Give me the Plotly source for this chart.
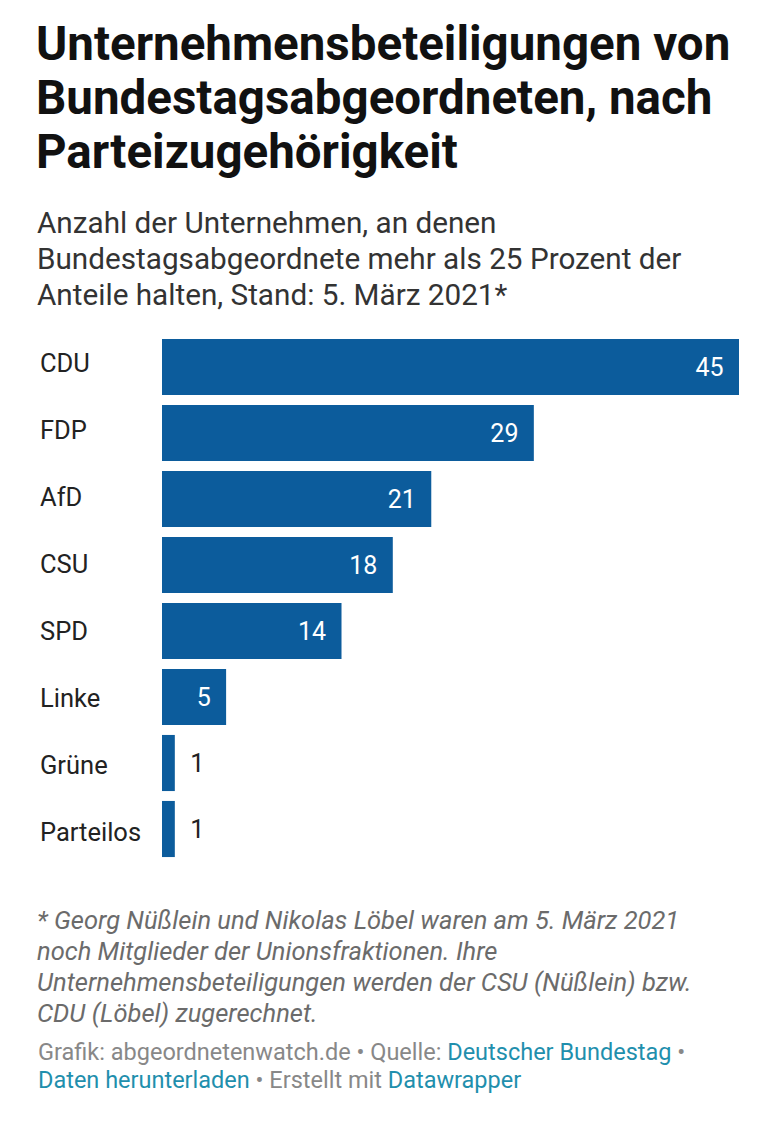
import plotly.graph_objects as go

parties = ["CDU", "FDP", "AfD", "CSU", "SPD", "Linke", "Grüne", "Parteilos"]
values = [45, 29, 21, 18, 14, 5, 1, 1]

W, H = 779, 1126
OFF = 8  # page body offset
L, R, T, B = 162 - OFF, 48, 334 - OFF, 272
PH = H - T - B
PW = W - L - R

def py(p):
    return (H - B - (p - OFF)) / PH

def px(p):
    return (p - OFF - L) / PW

FONT = "Roboto"
inside = [v > 3 for v in values]
fig = go.Figure(go.Bar(
    x=values, y=parties, orientation="h",
    marker=dict(color="#0c5c9c", line=dict(width=0)),
    text=[f"{v}&nbsp;&nbsp;" if ins else f"&nbsp;&nbsp;{v}" for v, ins in zip(values, inside)],
    textposition=["inside" if ins else "outside" for ins in inside],
    insidetextanchor="end",
    insidetextfont=dict(color="white", size=25, family=FONT),
    outsidetextfont=dict(color="#222", size=25, family=FONT),
    cliponaxis=False,
))

ann = []
def add(text, x, y, size, color="#111", xanchor="left", yanchor="middle", **kw):
    ann.append(dict(text=text, x=x, y=y, xref="paper", yref="paper", showarrow=False,
                    xanchor=xanchor, yanchor=yanchor, align="left",
                    font=dict(size=size, color=color, family=FONT), **kw))

for t, c in zip(["Unternehmensbeteiligungen von", "Bundestagsabgeordneten, nach", "Parteizugehörigkeit"], [44, 98, 152]):
    add(f"<b>{t}</b>", px(34), py(c), 47.5, "#111")
for t, c in zip(["Anzahl der Unternehmen, an denen", "Bundestagsabgeordnete mehr als 25 Prozent der",
                 "Anteile halten, Stand: 5. März 2021*"], [222, 259, 295]):
    add(t, px(35), py(c), 29.7, "#333")
for i, p in enumerate(parties):
    add(p, px(38), py(363 + i * 67), 25.5, "#222")
for t, c in zip(["* Georg Nüßlein und Nikolas Löbel waren am 5. März 2021",
                 "noch Mitglieder der Unionsfraktionen. Ihre",
                 "Unternehmensbeteiligungen werden der CSU (Nüßlein) bzw.",
                 "CDU (Löbel) zugerechnet."], [920, 951, 982, 1013]):
    add(f"<i>{t}</i>", px(35), py(c), 25.5, "#6b6b6b")
link = "#1f8fad"
add(f"Grafik: abgeordnetenwatch.de • Quelle: <span style='color:{link}'>Deutscher Bundestag</span> •",
    px(36), py(1052), 23.5, "#888")
add(f"<span style='color:{link}'>Daten herunterladen</span> • Erstellt mit <span style='color:{link}'>Datawrapper</span>",
    px(36), py(1080), 23.5, "#888")

fig.update_layout(
    width=W, height=H, margin=dict(l=L, r=R, t=T, b=B),
    paper_bgcolor="white", plot_bgcolor="white",
    bargap=0.15, showlegend=False, annotations=ann,
    xaxis=dict(range=[0, 45], visible=False, fixedrange=True),
    yaxis=dict(autorange="reversed", showticklabels=False, showgrid=False, zeroline=False, fixedrange=True),
)
fig.write_html("out.html", config={"displayModeBar": False})
